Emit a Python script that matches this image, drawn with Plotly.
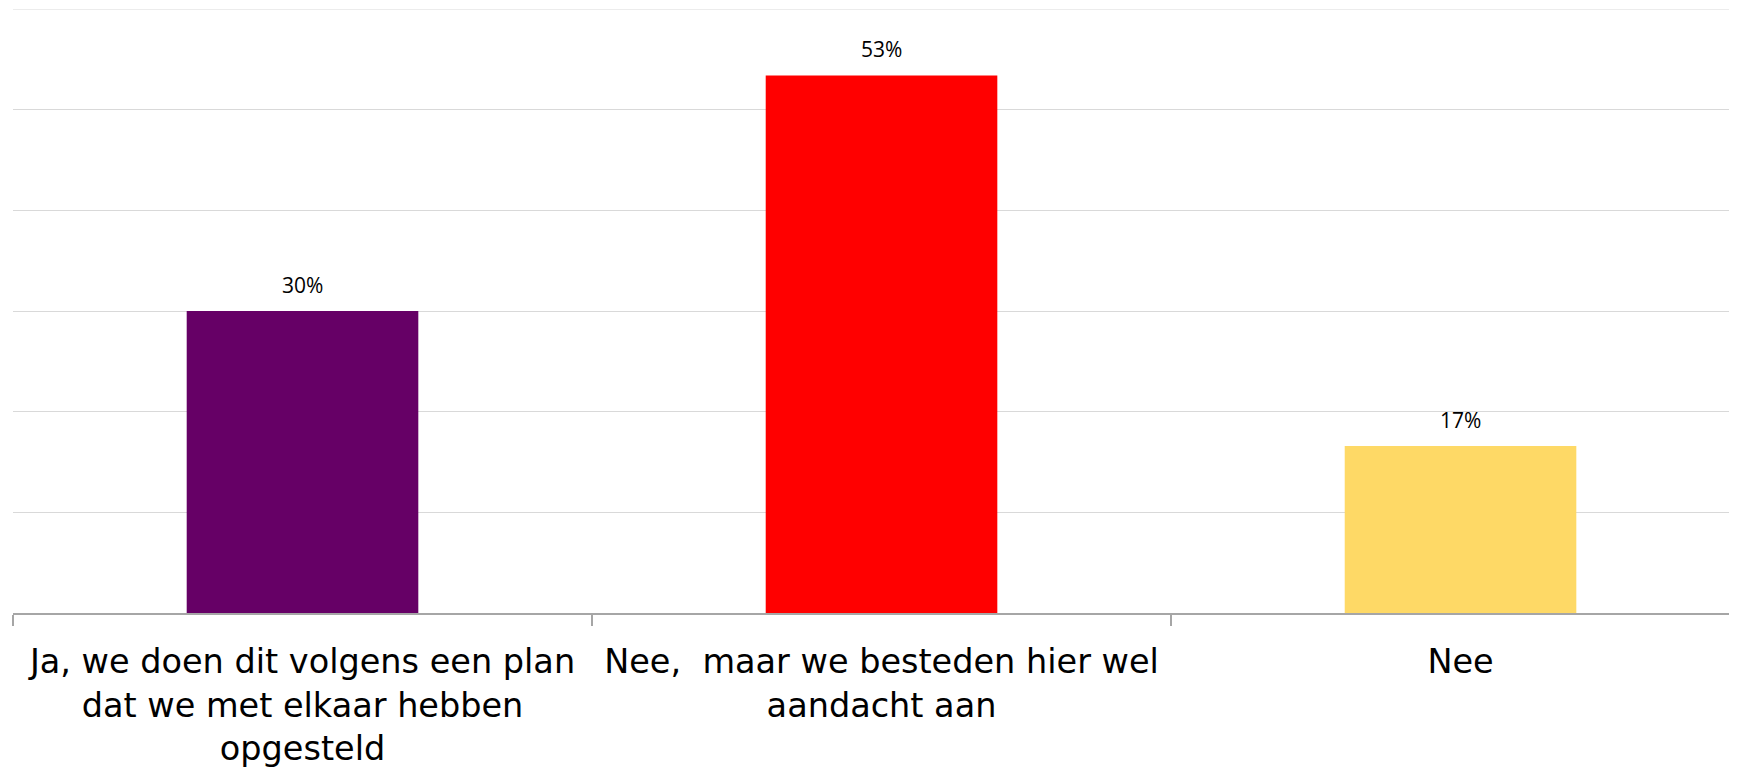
import plotly.graph_objects as go

categories = [
    "Ja, we doen dit volgens een plan<br>dat we met elkaar hebben<br>opgesteld",
    "Nee,  maar we besteden hier wel<br>aandacht aan",
    "Nee",
]
values = [30.0, 53.4, 16.6]
value_labels = ["30%", "53%", "17%"]
colors = ["#660066", "#FF0000", "#FED966"]
y_max = 60

fig = go.Figure()
fig.add_trace(go.Bar(
    x=categories,
    y=values,
    marker=dict(color=colors, line=dict(width=0)),
    width=0.4,
    hoverinfo="skip",
))

for c, v, t in zip(categories, values, value_labels):
    fig.add_annotation(
        x=c, y=v, text=t, showarrow=False,
        yanchor="bottom", yshift=10,
        font=dict(family="Open Sans", size=21, color="#000000"),
    )

# top gridline (plotly skips gridlines at the very edge of the plot area)
fig.add_shape(
    type="line", xref="paper", x0=0, x1=1, yref="y", y0=y_max, y1=y_max,
    line=dict(color="#D9D9D9", width=1.2), layer="below",
)

# page body has an 8px margin, so the figure is sized/margined to compensate
fig.update_layout(
    width=1729, height=760,
    margin=dict(l=5, r=0, t=1, b=155, pad=0),
    plot_bgcolor="white", paper_bgcolor="white",
    showlegend=False,
)
fig.update_xaxes(
    type="category",
    range=[-0.5, 2.4775],
    tickson="boundaries",
    ticks="outside", ticklen=11, tickcolor="#A6A6A6", tickwidth=1.5,
    showline=True, linecolor="#A6A6A6", linewidth=1.5,
    showgrid=False,
    tickfont=dict(family="DejaVu Sans", size=33.5, color="#000000"),
    ticklabelstandoff=18,
)
fig.update_yaxes(
    range=[0, y_max], tick0=0, dtick=10,
    showgrid=True, gridcolor="#D9D9D9", gridwidth=1.2,
    showticklabels=False, zeroline=False, showline=False,
)

fig.write_html("out.html")
